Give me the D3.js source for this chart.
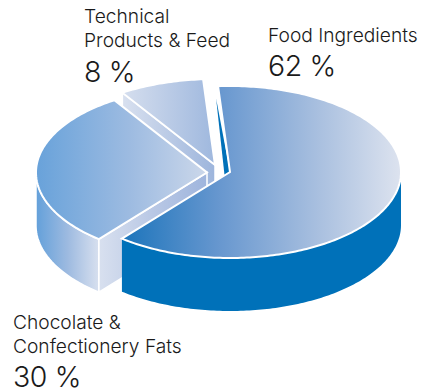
<!DOCTYPE html>
<html><head><meta charset="utf-8">
<script src="https://cdn.jsdelivr.net/npm/d3@7/dist/d3.min.js"></script>
<style>html,body{margin:0;padding:0;background:#fff}svg{display:block}
text{font-family:Inter,"Liberation Sans",sans-serif;font-weight:300;fill:#1a1a1a}</style>
</head><body><svg id="c" width="421" height="389"></svg>
<script>
const categories = ["Food Ingredients", "Chocolate & Confectionery Fats", "Technical Products & Feed"];
const values = [62, 30, 8];
const labelLines = [["Food Ingredients"], ["Chocolate &", "Confectionery Fats"], ["Technical", "Products & Feed"]];
const percentLabels = ["62 %", "30 %", "8 %"];

const W = 421, H = 389, rx = 171, ry = 86, depth = 53;
const deg = Math.PI / 180;
const centres = [[230, 172], [207, 172.5], [215, 165]];
const labelPos = [[268, 42, 76], [13, 329, 387], [84, 23, 82]];
const svg = d3.select("#c");
const defs = svg.append("defs");
function grad(id, x1, x2, stops) {
  const g = defs.append("linearGradient").attr("id", id).attr("gradientUnits", "userSpaceOnUse")
    .attr("x1", x1).attr("x2", x2).attr("y1", 0).attr("y2", 0);
  stops.forEach(s => g.append("stop").attr("offset", s[0]).attr("stop-color", s[1]));
  return `url(#${id})`;
}
const pie = d3.pie().sort(null).startAngle(-4 * deg).endAngle(356 * deg);
const arcs = pie(values);
const line = d3.line();
const pt = (c, a, d = 0) => [c[0] + rx * Math.sin(a), c[1] - ry * Math.cos(a) + d];
const sample = (c, a0, a1, d = 0) => {
  const n = Math.max(2, Math.ceil(Math.abs(a1 - a0) / (1 * deg)));
  return d3.range(n + 1).map(i => pt(c, a0 + (a1 - a0) * i / n, d));
};
const topFace = (c, a) => line([c, ...sample(c, a.startAngle, a.endAngle)]) + "Z";
const outerWall = (c, a0, a1, d) => line([...sample(c, a0, a1), ...sample(c, a1, a0, d)]) + "Z";

const fills = {
  foodTop: grad("ft", 121, 401, [[0, "#1b74bb"], [.35, "#6797cf"], [.7, "#a8bfdf"], [1, "#dde3ef"]]),
  chocTop: grad("ct", 36, 206, [[0, "#68a2da"], [.55, "#9dbbe1"], [1, "#cbd7ea"]]),
  chocWall: grad("cw", 36, 99, [[0, "#63a0da"], [.5, "#9dbae0"], [1, "#d8e0ef"]]),
  chocInner: grad("ci", 99, 206, [[0, "#d8e0ef"], [.5, "#b9c8e5"], [1, "#9fb5dd"]]),
  techTop: grad("tt", 123, 215, [[0, "#d5deee"], [1, "#9fb8de"]]),
  techInner: grad("ti", 123, 215, [[0, "#d8e0ef"], [1, "#9db5dc"]])
};
const solid = "#0071b9", white = "#fff";
const g = svg.append("g");
function draw(d, fill, sw) { g.append("path").attr("d", d).attr("fill", fill).attr("stroke", sw ? white : "none").attr("stroke-width", sw || 0).attr("stroke-linejoin", "miter"); }

// Technical (behind)
const tc = centres[2], ta = arcs[2];
const tOut = pt(tc, ta.startAngle);
draw(line([tOut, tc, [tc[0], tc[1] + depth], [tOut[0], tOut[1] + depth]]) + "Z", fills.techInner, 1.5);
draw(topFace(tc, ta), fills.techTop, 2);

// Chocolate
const cc = centres[1], ca = arcs[1];
const cOut = pt(cc, ca.startAngle);
draw(outerWall(cc, ca.startAngle, 270 * deg, depth), fills.chocWall, 1.5);
draw(line([cOut, cc, [cc[0], cc[1] + depth], [cOut[0], cOut[1] + depth]]) + "Z", fills.chocInner, 1.5);
draw(topFace(cc, ca), fills.chocTop, 2);

// Food
const fc = centres[0], fa = arcs[0];
const fOut = pt(fc, fa.startAngle);
draw(line([[fOut[0] - 2, fOut[1] + 12], fc, [fc[0], fc[1] + depth]]) + "Z", solid, 0);
draw(outerWall(fc, 90 * deg, fa.endAngle, depth), solid, 0);
draw(topFace(fc, fa), fills.foodTop, 2);

// Labels
labelLines.forEach((lines, i) => {
  const [x, y0, yp] = labelPos[i];
  lines.forEach((t, j) => svg.append("text").attr("x", x).attr("y", y0 + j * 24).attr("font-size", 19.2).text(t));
  svg.append("text").attr("x", x).attr("y", yp).attr("font-size", 28.5).attr("letter-spacing", -0.4).text(percentLabels[i]);
});
</script></body></html>
